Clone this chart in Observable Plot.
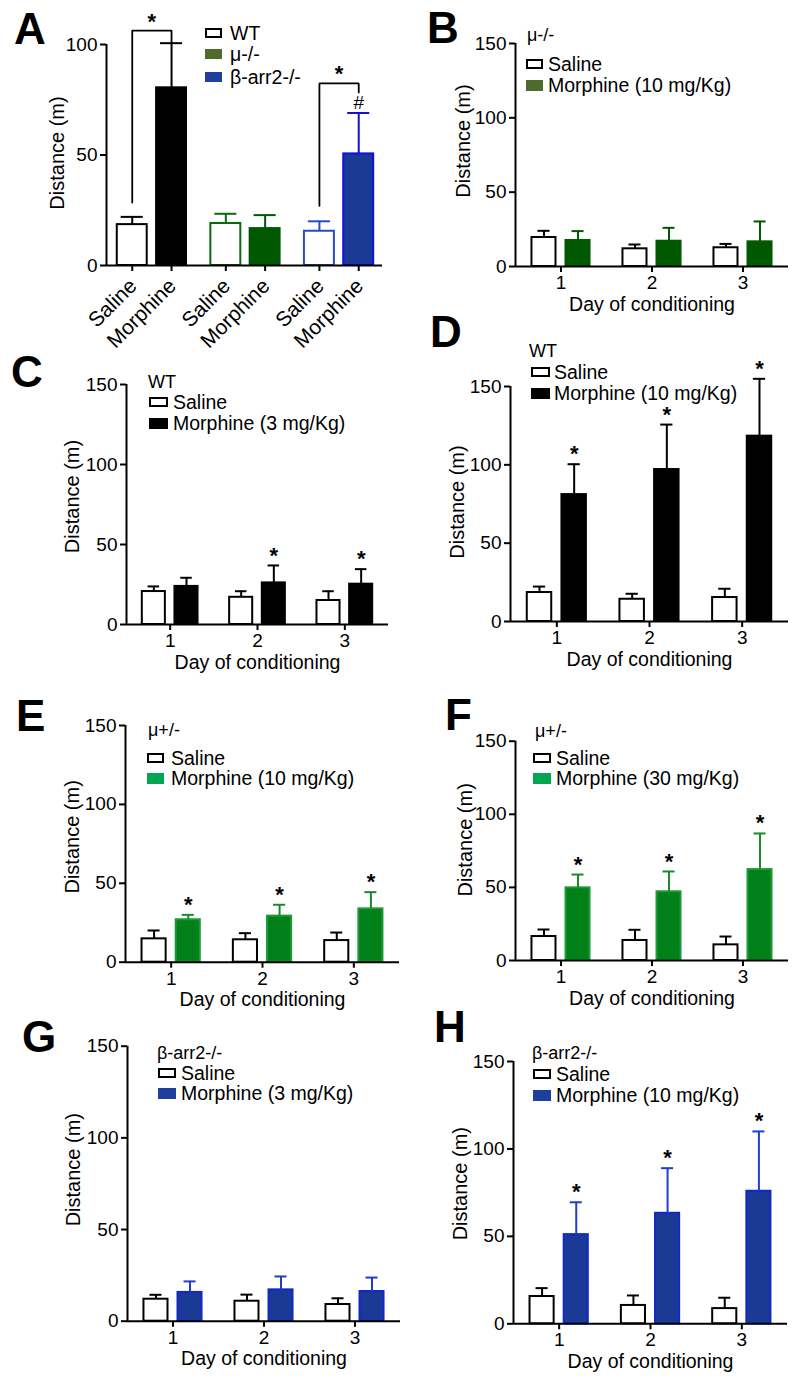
<!DOCTYPE html>
<html><head><meta charset="utf-8">
<script src="https://cdn.jsdelivr.net/npm/d3@7"></script>
<script src="https://cdn.jsdelivr.net/npm/@observablehq/plot@0.6"></script>
<style>
body{margin:0;background:#fff;}
#fig{position:relative;width:800px;height:1383px;font-family:"Liberation Sans",Arial,sans-serif;color:#000;overflow:hidden;background:#fff}
#fig svg{position:absolute;overflow:visible}
.abs{position:absolute}
.letter{font-size:44px;font-weight:bold;line-height:44px}
.lt{font-size:19.5px;line-height:22px;white-space:nowrap}
.sw{box-sizing:border-box}
</style></head><body><div id="fig"></div><script>
// ---------- DATA ----------
const days = [1, 2, 3];
const treatments = ["Saline", "Morphine"];
const yTicks150 = [0, 50, 100, 150];

// Panel A: day 1 distance by genotype
const aGenotypes = ["WT", "μ-/-", "β-arr2-/-"];
const aTicks = [0, 50, 100];
const aSalineMean = [18.5, 19.0, 15.5];
const aSalineSem = [3.5, 4.4, 4.5];
const aMorphMean = [80.4, 16.7, 50.5];
const aMorphSem = [20.2, 6.1, 18.5];
const aBracketGroups = [0, 2];
const aBracketLow = [28.5, 27.0];
const aBracketTop = [106.3, 82.4];
const aBracketRight = [101.0, 78.3];

// Panel B: μ-/-, morphine 10 mg/Kg
const bSalineMean = [19.5, 11.9, 12.6];
const bSalineSem = [4.5, 2.9, 2.6];
const bMorphMean = [17.5, 17.0, 16.6];
const bMorphSem = [6.3, 9.0, 13.7];
const bSig = [false, false, false];

// Panel C: WT, morphine 3 mg/Kg
const cSalineMean = [20.6, 17.0, 15.0];
const cSalineSem = [3.2, 3.8, 5.8];
const cMorphMean = [23.8, 26.0, 25.2];
const cMorphSem = [5.4, 10.9, 9.4];
const cSig = [false, true, true];

// Panel D: WT, morphine 10 mg/Kg
const dSalineMean = [18.5, 14.2, 15.3];
const dSalineSem = [3.8, 3.5, 5.6];
const dMorphMean = [81.0, 97.0, 118.3];
const dMorphSem = [19.4, 28.7, 36.6];
const dSig = [true, true, true];

// Panel E: μ+/-, morphine 10 mg/Kg
const eSalineMean = [14.8, 14.2, 13.7];
const eSalineSem = [5.3, 4.2, 5.1];
const eMorphMean = [26.9, 29.2, 33.8];
const eMorphSem = [3.1, 7.2, 10.6];
const eSig = [true, true, true];

// Panel F: μ+/-, morphine 30 mg/Kg
const fSalineMean = [16.4, 13.7, 10.7];
const fSalineSem = [4.8, 7.3, 5.7];
const fMorphMean = [49.7, 47.0, 62.2];
const fMorphSem = [9.1, 13.9, 24.7];
const fSig = [true, true, true];

// Panel G: β-arr2-/-, morphine 3 mg/Kg
const gSalineMean = [12.0, 10.9, 9.1];
const gSalineSem = [2.4, 3.6, 3.4];
const gMorphMean = [15.7, 17.1, 16.2];
const gMorphSem = [6.0, 7.3, 7.6];
const gSig = [false, false, false];

// Panel H: β-arr2-/-, morphine 10 mg/Kg
const hSalineMean = [15.6, 10.5, 8.7];
const hSalineSem = [4.8, 5.7, 6.2];
const hMorphMean = [51.0, 63.2, 75.8];
const hMorphSem = [18.5, 25.8, 34.2];
const hSig = [true, true, true];

// ---------- STYLE ----------
const FONT = '"Liberation Sans", Arial, sans-serif';
const TICK_FS = 19;
const C_BLACK = "#000000";
const C_DKGREEN = "#005800", C_OLIVE = "#4e6b2d";
const C_GREEN = "#008018", C_GREEN_EDGE = "#1e9a3a", C_GREEN_LEG = "#00a651";
const C_BLUE = "#1b3a95", C_BLUE_EDGE = "#1428c8", C_BLUE_LEG = "#1e3f9e";

const fig = document.getElementById("fig");

function place(el, left, top) {
  el.style.left = left + "px"; el.style.top = top + "px";
  fig.appendChild(el);
}
function addDiv(cls, text, left, top, extra) {
  const d = document.createElement("div");
  d.className = "abs " + cls;
  d.textContent = text;
  if (extra) Object.assign(d.style, extra);
  place(d, left, top);
  return d;
}
function swatch(left, cy, w, h, fill, border) {
  const d = document.createElement("div");
  d.className = "abs sw";
  Object.assign(d.style, {width: w + "px", height: h + "px", background: fill,
    border: border ? "2px solid " + border : "none"});
  place(d, left, cy - h / 2);
}
function textRow(text, left, cy) { addDiv("lt", text, left, cy - 11); }

// ---------- PANEL A ----------
(function () {
  const OFF = 0.21, HW = 0.16, CAP = 0.118;
  const salStroke = [C_BLACK, "#0a6a0a", "#2a4cc0"];
  const morFill = [C_BLACK, C_DKGREEN, C_BLUE];
  const morStroke = [C_BLACK, C_DKGREEN, "#1010d8"];
  const rows = [];
  aGenotypes.forEach((g, i) => {
    rows.push({g: i, t: treatments[0], mean: aSalineMean[i], sem: aSalineSem[i], fill: "white", stroke: salStroke[i]});
    rows.push({g: i, t: treatments[1], mean: aMorphMean[i], sem: aMorphSem[i], fill: morFill[i], stroke: morStroke[i]});
  });
  const cx = d => d.g + (d.t === "Saline" ? -OFF : OFF);
  const br = [];
  aBracketGroups.forEach((g, k) => {
    br.push({k, x: g - OFF, y: aBracketLow[k]});
    br.push({k, x: g - OFF, y: aBracketTop[k]});
    br.push({k, x: g + OFF, y: aBracketTop[k]});
    br.push({k, x: g + OFF, y: aBracketRight[k]});
  });
  const stars = aBracketGroups.map((g, k) => ({x: g, y: aBracketTop[k]}));
  const hash = [{x: 2 + OFF, y: aMorphMean[2] + aMorphSem[2]}];
  const svg = Plot.plot({
    width: 400, height: 340, marginLeft: 106, marginRight: 18, marginTop: 44, marginBottom: 75,
    x: {domain: [-0.485, 2.464]}, y: {domain: [0, 100]},
    color: {type: "identity"},
    style: {background: "transparent", fontFamily: FONT, fontSize: TICK_FS + "px", overflow: "visible"},
    marks: [
      Plot.rect(rows, {x1: d => cx(d) - HW, x2: d => cx(d) + HW, y1: 0, y2: "mean", fill: "fill", stroke: "stroke", strokeWidth: 2}),
      Plot.ruleX(rows, {x: cx, y1: "mean", y2: d => d.mean + d.sem, stroke: "stroke", strokeWidth: 2}),
      Plot.ruleY(rows, {y: d => d.mean + d.sem, x1: d => cx(d) - CAP, x2: d => cx(d) + CAP, stroke: "stroke", strokeWidth: 2}),
      Plot.line(br, {x: "x", y: "y", z: "k", stroke: C_BLACK, strokeWidth: 1.8, strokeLinejoin: "miter"}),
      Plot.text(stars, {x: "x", y: "y", text: () => "*", fontSize: 22, fontWeight: "bold", dy: -9}),
      Plot.text(hash, {x: "x", y: "y", text: () => "#", fontSize: 19, dy: -10}),
      Plot.ruleY([0], {stroke: C_BLACK, strokeWidth: 2}),
      Plot.ruleX([-0.485], {y1: 0, y2: 100, stroke: C_BLACK, strokeWidth: 2}),
      Plot.axisY({ticks: aTicks, tickSize: 6, tickPadding: 3, strokeWidth: 2, fontSize: TICK_FS, label: null}),
      Plot.axisX({ticks: rows.map(cx), tickSize: 6, tickFormat: () => "", strokeWidth: 2, label: null}),
      Plot.text(rows, {x: cx, y: () => 0, text: "t", rotate: -45, textAnchor: "end", lineAnchor: "middle", dx: 1, dy: 17, fontSize: 21}),
      Plot.text(["Distance (m)"], {text: d => d, frameAnchor: "left", textAnchor: "middle", lineAnchor: "middle", rotate: -90, dx: -49, dy: -2, fontSize: 20})
    ]
  });
  svg.style.left = "0px"; svg.style.top = "0px";
  fig.appendChild(svg);
  // legend
  const ys = [33, 54, 77];
  swatch(205, ys[0], 17, 10, "white", C_BLACK);
  swatch(205, ys[1], 17, 10, C_OLIVE, null);
  swatch(205, ys[2], 17, 10, C_BLUE_LEG, null);
  aGenotypes.forEach((g, i) => textRow(g, 230, ys[i]));
  addDiv("letter", "A", 14, 7);
})();

// ---------- PANELS B-H ----------
const OFF = 0.187, HW = 0.132, CAP = 0.066;
const panels = [
  {id: "B", left: 400, top: 0, h: 330, ml: 115, mr: 12, mt: 43, mb: 64,
   sal: bSalineMean, salS: bSalineSem, mor: bMorphMean, morS: bMorphSem, sig: bSig,
   fill: C_DKGREEN, stroke: C_DKGREEN, err: C_DKGREEN, ylDx: -52, ylDy: -14,
   title: "μ-/-", dose: "Morphine (10 mg/Kg)", leg: C_OLIVE,
   lg: {tx: 527, ty: 35, sx: 526, sw: 17, r1: 64, r2: 85, txt: 548}, letter: [427, 6]},
  {id: "C", left: 0, top: 330, h: 340, ml: 126, mr: 12, mt: 54, mb: 46,
   sal: cSalineMean, salS: cSalineSem, mor: cMorphMean, morS: cMorphSem, sig: cSig,
   fill: C_BLACK, stroke: C_BLACK, err: C_BLACK, ylDx: -54, ylDy: -8,
   title: "WT", dose: "Morphine (3 mg/Kg)", leg: C_BLACK,
   lg: {tx: 148, ty: 382, sx: 149, sw: 19, r1: 402, r2: 423, txt: 173}, letter: [11, 350]},
  {id: "D", left: 400, top: 330, h: 340, ml: 110, mr: 12, mt: 56, mb: 49,
   sal: dSalineMean, salS: dSalineSem, mor: dMorphMean, morS: dMorphSem, sig: dSig,
   fill: C_BLACK, stroke: C_BLACK, err: C_BLACK, ylDx: -53, ylDy: -2,
   title: "WT", dose: "Morphine (10 mg/Kg)", leg: C_BLACK,
   lg: {tx: 529, ty: 351, sx: 531, sw: 19, r1: 372, r2: 393, txt: 554}, letter: [430, 310]},
  {id: "E", left: 0, top: 670, h: 360, ml: 125, mr: 1, mt: 55, mb: 68.3,
   sal: eSalineMean, salS: eSalineSem, mor: eMorphMean, morS: eMorphSem, sig: eSig,
   fill: C_GREEN, stroke: C_GREEN_EDGE, err: "#1a8a2a", ylDx: -53, ylDy: -7,
   title: "μ+/-", dose: "Morphine (10 mg/Kg)", leg: C_GREEN_LEG,
   lg: {tx: 148, ty: 730, sx: 147, sw: 17, r1: 758, r2: 778, txt: 171}, letter: [16, 694]},
  {id: "F", left: 400, top: 670, h: 360, ml: 115, mr: 12, mt: 70.7, mb: 70,
   sal: fSalineMean, salS: fSalineSem, mor: fMorphMean, morS: fMorphSem, sig: fSig,
   fill: C_GREEN, stroke: C_GREEN_EDGE, err: "#1a8a2a", ylDx: -50, ylDy: -11,
   title: "μ+/-", dose: "Morphine (30 mg/Kg)", leg: C_GREEN_LEG,
   lg: {tx: 535, ty: 731, sx: 533, sw: 18, r1: 758, r2: 778, txt: 556}, letter: [445, 693]},
  {id: "G", left: 0, top: 1030, h: 353, ml: 127, mr: 0, mt: 15.7, mb: 62.3,
   sal: gSalineMean, salS: gSalineSem, mor: gMorphMean, morS: gMorphSem, sig: gSig,
   fill: C_BLUE, stroke: C_BLUE_EDGE, err: "#1f3fc0", ylDx: -54, ylDy: -14,
   title: "β-arr2-/-", dose: "Morphine (3 mg/Kg)", leg: C_BLUE_LEG,
   lg: {tx: 157, ty: 1053, sx: 158, sw: 18, r1: 1073, r2: 1093, txt: 181}, letter: [22, 1015]},
  {id: "H", left: 400, top: 1030, h: 353, ml: 113, mr: 13, mt: 31, mb: 59.7,
   sal: hSalineMean, salS: hSalineSem, mor: hMorphMean, morS: hMorphSem, sig: hSig,
   fill: C_BLUE, stroke: C_BLUE_EDGE, err: "#1f3fd0", ylDx: -53, ylDy: -9,
   title: "β-arr2-/-", dose: "Morphine (10 mg/Kg)", leg: C_BLUE_LEG,
   lg: {tx: 532, ty: 1053, sx: 533, sw: 18, r1: 1074, r2: 1095, txt: 556}, letter: [434, 1005]}
];

panels.forEach(p => {
  const rows = [];
  days.forEach((day, i) => {
    rows.push({day, t: "Saline", mean: p.sal[i], sem: p.salS[i], fill: "white", stroke: C_BLACK, err: C_BLACK, sig: false});
    rows.push({day, t: "Morphine", mean: p.mor[i], sem: p.morS[i], fill: p.fill, stroke: p.stroke, err: p.err, sig: p.sig[i]});
  });
  const cx = d => d.day + (d.t === "Saline" ? -OFF : OFF);
  const svg = Plot.plot({
    width: 400, height: p.h, marginLeft: p.ml, marginRight: p.mr, marginTop: p.mt, marginBottom: p.mb,
    x: {domain: [0.5, 3.5]}, y: {domain: [0, 150]},
    color: {type: "identity"},
    style: {background: "transparent", fontFamily: FONT, fontSize: TICK_FS + "px", overflow: "visible"},
    marks: [
      Plot.rect(rows, {x1: d => cx(d) - HW, x2: d => cx(d) + HW, y1: 0, y2: "mean", fill: "fill", stroke: "stroke", strokeWidth: 2}),
      Plot.ruleX(rows, {x: cx, y1: "mean", y2: d => d.mean + d.sem, stroke: "err", strokeWidth: 2}),
      Plot.ruleY(rows, {y: d => d.mean + d.sem, x1: d => cx(d) - CAP, x2: d => cx(d) + CAP, stroke: "err", strokeWidth: 2}),
      Plot.text(rows.filter(d => d.sig), {x: cx, y: d => d.mean + d.sem, text: () => "*", fontSize: 22, fontWeight: "bold", dy: -10}),
      Plot.ruleY([0], {stroke: C_BLACK, strokeWidth: 2}),
      Plot.ruleX([0.5], {y1: 0, y2: 150, stroke: C_BLACK, strokeWidth: 2}),
      Plot.axisY({ticks: yTicks150, tickSize: 6, tickPadding: 3, strokeWidth: 2, fontSize: TICK_FS, label: null}),
      Plot.axisX({ticks: days, tickSize: 6, tickPadding: 3, strokeWidth: 2, fontSize: TICK_FS, tickFormat: d => String(d), label: null}),
      Plot.text(["Distance (m)"], {text: d => d, frameAnchor: "left", textAnchor: "middle", lineAnchor: "middle", rotate: -90, dx: p.ylDx, dy: p.ylDy, fontSize: 20}),
      Plot.text(["Day of conditioning"], {text: d => d, frameAnchor: "bottom", textAnchor: "middle", lineAnchor: "middle", dy: 38, fontSize: 19.5})
    ]
  });
  svg.style.left = p.left + "px"; svg.style.top = p.top + "px";
  fig.appendChild(svg);
  // legend
  const L = p.lg;
  addDiv("lt", p.title, L.tx, L.ty - 11, {fontSize: "18px"});
  swatch(L.sx, L.r1, L.sw, 10, "white", C_BLACK);
  swatch(L.sx, L.r2, L.sw, 11, p.leg, null);
  textRow(treatments[0], L.txt, L.r1);
  textRow(p.dose, L.txt, L.r2);
  addDiv("letter", p.id, p.letter[0], p.letter[1]);
});
</script></body></html>
